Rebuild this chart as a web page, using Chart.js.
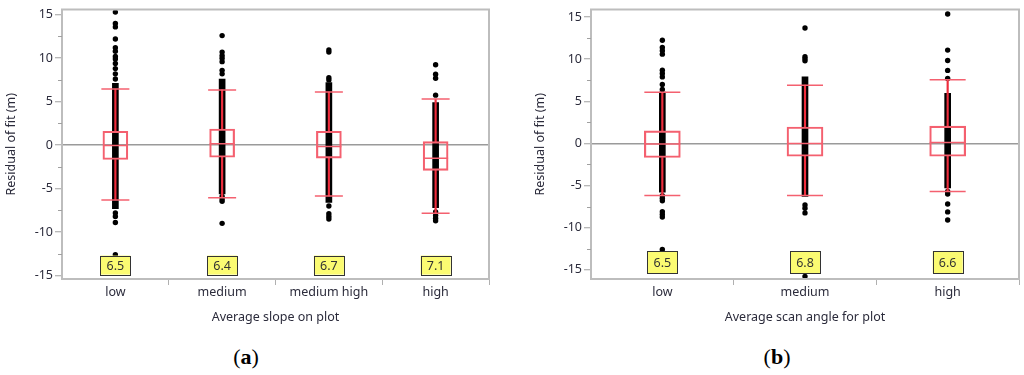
<!DOCTYPE html>
<html>
<head>
<meta charset="utf-8">
<script src="https://cdn.jsdelivr.net/npm/chart.js@4.4.1/dist/chart.umd.min.js"></script>
<style>
  body { margin: 0; background: #fff; width: 1024px; height: 375px; overflow: hidden; position: relative; }
  .panel { position: absolute; top: 0; }
  .caption { position: absolute; top: 344px; width: 100px; text-align: center; font: 22px "Liberation Serif", serif; color: #000; }
</style>
</head>
<body>
<div class="panel" style="left:0"><canvas id="chartA" width="500" height="340"></canvas></div>
<div class="panel" style="left:520px"><canvas id="chartB" width="504" height="340"></canvas></div>
<div class="caption" style="left:196px">(<b>a</b>)</div>
<div class="caption" style="left:727px">(<b>b</b>)</div>
<script>
// ─── Eixos ────────────────────────────────────────────────
const yTicks      = [-15, -10, -5, 0, 5, 10, 15];
const yMinorTicks = [-12.5, -7.5, -2.5, 2.5, 7.5, 12.5];

// ─── Painel (a): declividade média ────────────────────────
const catsA     = ['low', 'medium', 'medium high', 'high'];
const whiskLoA  = [-6.3, -6.05, -5.85, -7.85];
const q1A       = [-1.65, -1.4, -1.5, -2.9];
const medianA   = [-0.05, 0.15, -0.15, -1.5];
const q3A       = [1.6, 1.85, 1.6, 0.4];
const whiskHiA  = [6.45, 6.35, 6.1, 5.3];
const denseLoA  = [-7.3, -5.6, -6.6, -7.2];
const denseHiA  = [7.1, 7.6, 7.2, 4.9];
const outliersA = [
  [7.6, 8.2, 8.8, 9.4, 9.9, 10.2, 10.8, 11.2, 12.2, 13.6, 14.0, 15.3, -7.8, -8.2, -8.9, -12.6],
  [8.2, 8.6, 9.6, 10.0, 10.3, 10.7, 12.6, -5.9, -6.2, -6.45, -9.0],
  [7.5, 7.75, 10.7, 10.95, -7.0, -7.9, -8.2, -8.5],
  [5.75, 7.7, 8.15, 9.25, -7.7, -8.1, -8.4, -8.7],
];
const rmseA     = [6.5, 6.4, 6.7, 7.1];

// ─── Painel (b): ângulo de varredura ──────────────────────
const catsB     = ['low', 'medium', 'high'];
const whiskLoB  = [-6.2, -6.2, -5.72];
const q1B       = [-1.67, -1.52, -1.52];
const medianB   = [-0.08, 0, 0.12];
const q3B       = [1.48, 1.95, 2.06];
const whiskHiB  = [6.07, 6.92, 7.55];
const denseLoB  = [-5.8, -6.3, -5.3];
const denseHiB  = [6.1, 7.9, 5.95];
const outliersB = [
  [6.4, 7.0, 7.9, 8.3, 8.7, 10.6, 11.0, 11.4, 12.25, -6.2, -6.5, -6.8, -8.1, -8.45, -8.75, -12.6],
  [9.8, 10.05, 10.3, 13.7, -7.3, -7.7, -8.25, -15.8],
  [7.7, 8.67, 9.84, 11.08, 15.37, -5.7, -6.0, -7.2, -8.13, -9.1],
];
const rmseB     = [6.5, 6.8, 6.6];

// ─── Estilo ───────────────────────────────────────────────
const TXT   = '#2b2b3b';
const FONT  = { family: '"Noto Sans", sans-serif', size: 12.5 };
const BOX   = '#f4606f';
const WHISK = '#ee2d3d';

// moldura, ticks menores e caixas amarelas
const panelDecor = {
  id: 'panelDecor',
  afterDatasetsDraw(chart, args, opts) {
    const { ctx, scales: { x, y } } = chart;
    ctx.save();
    ctx.font = '12.5px "Noto Sans", sans-serif';
    ctx.textAlign = 'center';
    ctx.textBaseline = 'middle';
    opts.values.forEach((v, i) => {
      const cx = x.getPixelForValue(i);
      const cy = y.getPixelForValue(opts.labelY);
      const w = 30, h = opts.labelH;
      ctx.fillStyle = '#fbfb72';
      ctx.fillRect(cx - w / 2, cy - h / 2, w, h);
      ctx.strokeStyle = '#333';
      ctx.lineWidth = 1;
      ctx.strokeRect(Math.round(cx - w / 2) + 0.5, Math.round(cy - h / 2) + 0.5, w, h);
      ctx.fillStyle = '#333';
      ctx.fillText(v.toFixed(1), cx, cy + 1);
    });
    ctx.restore();
  },
  afterDraw(chart) {
    const { ctx, chartArea: a, scales: { y } } = chart;
    ctx.save();
    ctx.strokeStyle = '#bdbdbd';
    ctx.lineWidth = 2;
    ctx.strokeRect(a.left, a.top, a.right - a.left, a.bottom - a.top);
    ctx.strokeStyle = '#a0a0a0';
    ctx.lineWidth = 1;
    yMinorTicks.forEach(v => {
      const py = Math.round(y.getPixelForValue(v)) + 0.5;
      ctx.beginPath();
      ctx.moveTo(a.left - 4, py);
      ctx.lineTo(a.left, py);
      ctx.stroke();
    });
    ctx.restore();
  }
};

function buildPanel(id, p) {
  const n = p.cats.length;
  const pts = p.outliers.flatMap((arr, i) => arr.map(v => ({ x: p.cats[i], y: v })));
  const asPts = arr => arr.map((v, i) => ({ x: p.cats[i], y: v }));
  const zip = (a, b) => a.map((v, i) => [v, b[i]]);

  new Chart(document.getElementById(id), {
    type: 'bar',
    data: {
      labels: p.cats,
      datasets: [
        // caixas
        { type: 'bar', data: zip(p.q1, p.q3), grouped: false, barThickness: p.boxW,
          backgroundColor: 'rgba(0,0,0,0)', borderColor: BOX, borderWidth: 1.5,
          borderSkipped: false, order: 2 },
        // medianas
        { type: 'line', data: asPts(p.median), showLine: false, pointStyle: 'line',
          pointRadius: p.boxW / 2, borderColor: BOX, borderWidth: 1.5, order: 1 },
        // hastes
        { type: 'line', data: asPts(p.lo).concat(asPts(p.hi)), showLine: false, pointStyle: 'line',
          pointRadius: p.capW / 2, borderColor: BOX, borderWidth: 1.5, order: 1 },
        { type: 'bar', data: zip(p.lo, p.q1), grouped: false, barThickness: 1.5,
          backgroundColor: WHISK, borderWidth: 0, order: 3 },
        { type: 'bar', data: zip(p.q3, p.hi), grouped: false, barThickness: 1.5,
          backgroundColor: WHISK, borderWidth: 0, order: 3 },
        // resíduos (coluna densa + pontos isolados)
        { type: 'bar', data: zip(p.denseLo, p.denseHi), grouped: false, barThickness: 6,
          backgroundColor: '#000', borderWidth: 0, order: 5 },
        { type: 'line', data: pts, showLine: false, pointRadius: 2.7, pointBorderWidth: 0,
          pointBackgroundColor: '#000', order: 4 },
      ]
    },
    options: {
      responsive: false,
      animation: false,
      events: [],
      layout: { padding: p.pad, autoPadding: false },
      plugins: {
        legend: { display: false },
        tooltip: { enabled: false },
        panelDecor: { values: p.rmse, labelY: p.labelY, labelH: p.labelH },
      },
      scales: {
        x: {
          type: 'category',
          offset: true,
          afterFit: s => { s.height = 61; },
          border: { display: false },
          grid: {
            offset: true, drawOnChartArea: false, tickLength: 6,
            tickColor: c => (c.index === 0 || c.index === n) ? 'rgba(0,0,0,0)' : '#b0b0b0',
          },
          ticks: { color: TXT, font: FONT, padding: 0 },
          title: { display: true, text: p.xTitle, color: TXT, font: FONT, padding: { bottom: 15.3 } },
        },
        y: {
          min: p.yMin, max: p.yMax,
          afterFit: s => { s.width = p.yW; },
          afterBuildTicks: s => { s.ticks = yTicks.map(v => ({ value: v })); },
          border: { display: false },
          grid: {
            color: c => (c.tick && c.tick.value === 0) ? '#9a9a9a' : 'rgba(0,0,0,0)',
            lineWidth: 1.5, tickLength: 7, tickColor: '#a0a0a0', tickWidth: 1,
          },
          ticks: { color: TXT, font: FONT, padding: 2 },
          title: { display: true, text: 'Residual of fit (m)', color: TXT, font: FONT, padding: { top: p.yTitlePad } },
        }
      }
    },
    plugins: [panelDecor]
  });
}

buildPanel('chartA', {
  cats: catsA, lo: whiskLoA, q1: q1A, median: medianA, q3: q3A, hi: whiskHiA,
  denseLo: denseLoA, denseHi: denseHiA, outliers: outliersA, rmse: rmseA,
  xTitle: 'Average slope on plot', yMin: -15.4, yMax: 15.6,
  pad: { top: 6, right: 11, left: 0, bottom: 0 }, yW: 62, yTitlePad: 3.5,
  boxW: 25, capW: 28, labelY: -13.8, labelH: 19,
});

buildPanel('chartB', {
  cats: catsB, lo: whiskLoB, q1: q1B, median: medianB, q3: q3B, hi: whiskHiB,
  denseLo: denseLoB, denseHi: denseHiB, outliers: outliersB, rmse: rmseB,
  xTitle: 'Average scan angle for plot', yMin: -16.1, yMax: 15.9,
  pad: { top: 5, right: 5, left: 0, bottom: 0 }, yW: 71, yTitlePad: 12.5,
  boxW: 36, capW: 36, labelY: -14.1, labelH: 22,
});
</script>
</body>
</html>
